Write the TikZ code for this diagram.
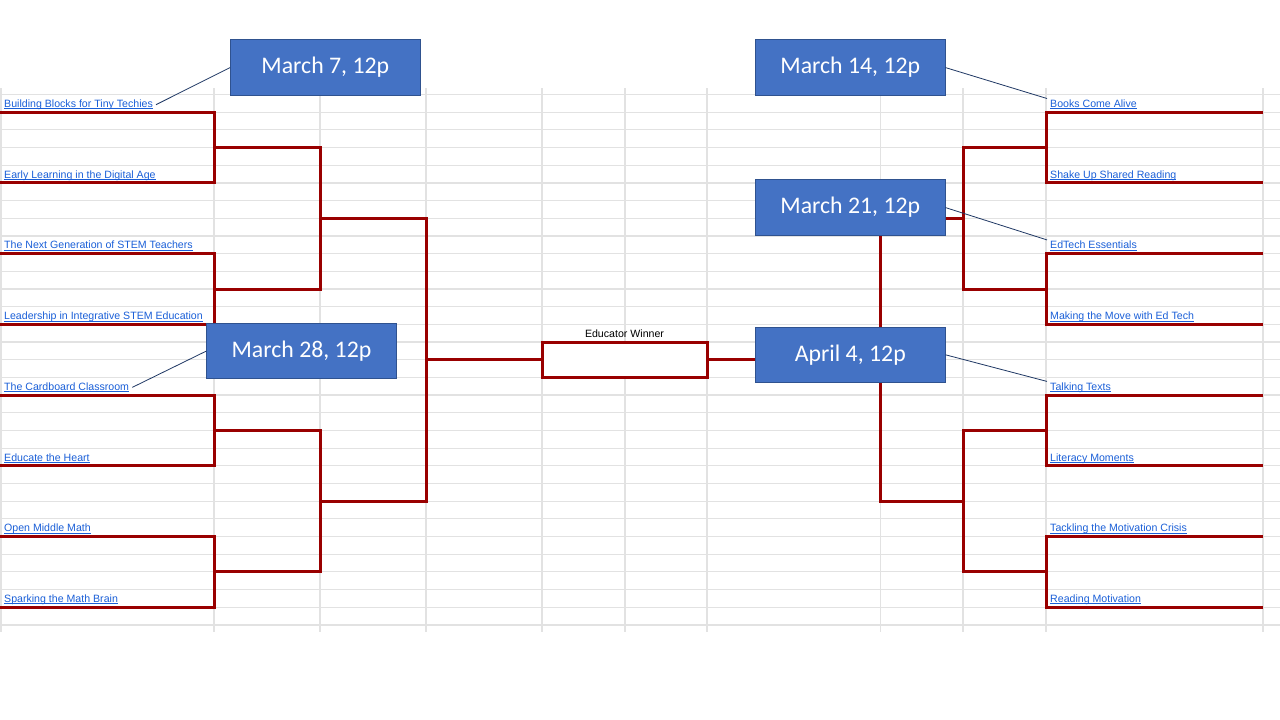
\documentclass[tikz,border=0pt]{standalone}
\usepackage{fontspec}
\setmainfont{Liberation Sans}
\newfontfamily\datefont{Carlito}
\usepackage{tikz}
\usetikzlibrary{positioning}

\definecolor{linkblue}{HTML}{1A5FD8}
\definecolor{darkred}{HTML}{990000}
\definecolor{gridgray}{HTML}{E2E2E2}
\definecolor{boxblue}{HTML}{4472C4}
\definecolor{boxedge}{HTML}{2F528F}
\definecolor{calloutcol}{HTML}{1F3864}

% underlined link text
\newcommand{\lnk}[1]{\setbox0=\hbox{#1}\rlap{\rule[-1.8pt]{\wd0}{0.8pt}}\box0}

\begin{document}
\begin{tikzpicture}[x=1pt, y=-1pt,
    session/.style={anchor=base west, inner xsep=3pt, inner ysep=1pt, text=linkblue, font=\fontsize{10.6}{12}\selectfont},
    datebox/.style={draw=boxedge, line width=1pt, fill=boxblue, text=white, minimum width=189.5pt, minimum height=55.5pt, font=\datefont\fontsize{23.8}{28}\selectfont},
    bracket/.style={draw=darkred, line width=3pt},
    gridline/.style={draw=gridgray, line width=1.2pt},
    callout/.style={draw=calloutcol, line width=0.8pt}]
        \useasboundingbox[fill=white] (0,0) rectangle (1280,720);

        % sheet
        \foreach \k in {0,...,30}
            \draw[gridline] (0,{94.5+17.68*\k}) -- (1280,{94.5+17.68*\k});
        \foreach \gx in {1,214,320,426,542,625,707,880.5,963,1046,1263}
            \draw[gridline] (\gx,88) -- (\gx,632);

        \node[draw=darkred, line width=3pt, fill=white, minimum width=165pt, minimum height=35.4pt, inner sep=0pt](win) at (624.5,359.7){};
        \node[above=3pt of win, inner sep=0pt, font=\fontsize{10.6}{12}\selectfont](winlbl){Educator Winner};

        % left half
        \draw[bracket] (0,112.2) -| (214,182.9) -- (0,182.9);
        \draw[bracket] (0,253.6) -| (214,324.3) -- (0,324.3);
        \draw[bracket] (0,395.1) -| (214,465.8) -- (0,465.8);
        \draw[bracket] (0,536.5) -| (214,607.2) -- (0,607.2);
        \draw[bracket] (214,147.5) -| (320,289) -- (214,289);
        \draw[bracket] (214,430.4) -| (320,571.9) -- (214,571.9);
        \draw[bracket] (320,218.3) -| (426,501.1) -- (320,501.1);
        \draw[bracket] (426,359.7) -- (win.west);

        % right half
        \draw[bracket] (1263,112.2) -| (1046,182.9) -- (1263,182.9);
        \draw[bracket] (1263,253.6) -| (1046,324.3) -- (1263,324.3);
        \draw[bracket] (1263,395.1) -| (1046,465.8) -- (1263,465.8);
        \draw[bracket] (1263,536.5) -| (1046,607.2) -- (1263,607.2);
        \draw[bracket] (1046,147.5) -| (963,289) -- (1046,289);
        \draw[bracket] (1046,430.4) -| (963,571.9) -- (1046,571.9);
        \draw[bracket] (963,218.3) -| (880.5,501.1) -- (963,501.1);
        \draw[bracket] (win.east) -- (880.5,359.7);

        \node[session](bb) at (1,107.4){\lnk{Building Blocks for Tiny Techies}};
        \node[session](el) at (1,178.1){\lnk{Early Learning in the Digital Age}};
        \node[session](ng) at (1,248.8){\lnk{The Next Generation of STEM Teachers}};
        \node[session](lis) at (1,319.5){\lnk{Leadership in Integrative STEM Education}};
        \node[session](cc) at (1,390.3){\lnk{The Cardboard Classroom}};
        \node[session](eh) at (1,461.0){\lnk{Educate the Heart}};
        \node[session](omm) at (1,531.7){\lnk{Open Middle Math}};
        \node[session](smb) at (1,602.4){\lnk{Sparking the Math Brain}};

        \node[session](bca) at (1047,107.4){\lnk{Books Come Alive}};
        \node[session](sus) at (1047,178.1){\lnk{Shake Up Shared Reading}};
        \node[session](ete) at (1047,248.8){\lnk{EdTech Essentials}};
        \node[session](mm) at (1047,319.5){\lnk{Making the Move with Ed Tech}};
        \node[session](tt) at (1047,390.3){\lnk{Talking Texts}};
        \node[session](lm) at (1047,461.0){\lnk{Literacy Moments}};
        \node[session](tmc) at (1047,531.7){\lnk{Tackling the Motivation Crisis}};
        \node[session](rm) at (1047,602.4){\lnk{Reading Motivation}};

        % webinar dates
        \node[datebox](m7) at (325.3,67.6){March 7, 12p};
        \node[datebox](m28) at (301.5,351.1){March 28, 12p};
        \node[datebox](m14) at (850.3,67.6){March 14, 12p};
        \node[datebox, below=83.5pt of m14](m21){March 21, 12p};
        \node[datebox, below=90.7pt of m21](a4){April 4, 12p};

        \draw[callout] (m7.west) -- (bb.east);
        \draw[callout] (m28.west) -- (cc.east);
        \draw[callout] (m14.east) -- (bca.north west);
        \draw[callout] (m21.east) -- (ete.north west);
        \draw[callout] (a4.east) -- (tt.north west);
    \end{tikzpicture}
\end{document}
